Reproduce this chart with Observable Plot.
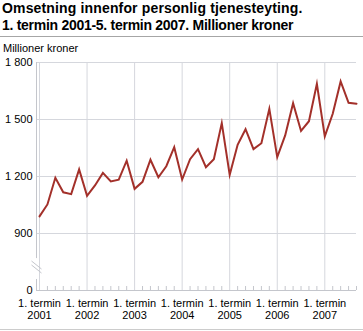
<!DOCTYPE html>
<html>
<head>
<meta charset="utf-8">
<script src="https://cdn.jsdelivr.net/npm/d3@7"></script>
<script src="https://cdn.jsdelivr.net/npm/@observablehq/plot@0.6"></script>
<style>
  html, body { margin: 0; padding: 0; background: #fff; }
  body { width: 363px; height: 331px; position: relative; overflow: hidden;
         font-family: "Liberation Sans", Arial, sans-serif; color: #000; }
  #title { position: absolute; left: 2px; top: 0px; font-weight: bold; font-size: 14px;
           line-height: 17px; white-space: nowrap; }
  #t1 { letter-spacing: 0.15px; }
  #t2 { letter-spacing: -0.28px; }
  #rule1 { position: absolute; left: 0; top: 36px; width: 363px; height: 1px; background: #a6a6a6; }
  #ylab { position: absolute; left: 3px; top: 42px; font-size: 11px; white-space: nowrap; }
  #chart { position: absolute; left: 0; top: 38px; }
  #rule2 { position: absolute; left: 0; top: 329px; width: 363px; height: 1px; background: #cccccc; }
</style>
</head>
<body>
<div id="title"><span id="t1">Omsetning innenfor personlig tjenesteyting.</span><br><span id="t2">1. termin 2001-5. termin 2007. Millioner kroner</span></div>
<div id="rule1"></div>
<div id="ylab">Millioner kroner</div>
<div id="chart"></div>
<div id="rule2"></div>
<script>
// ---- data ----
const years = [2001, 2002, 2003, 2004, 2005, 2006, 2007];
const termLabel = "1. termin";
const termsPerYear = 6;
// Omsetning, millioner kroner, 1. termin 2001 - 5. termin 2007 (41 terminer)
const values = [
  990, 1053, 1193, 1117, 1107, 1237,
  1098, 1153, 1219, 1174, 1183, 1283,
  1135, 1172, 1288, 1196, 1254, 1354,
  1184, 1291, 1344, 1249, 1291, 1481,
  1209, 1367, 1449, 1344, 1375, 1556,
  1302, 1416, 1586, 1440, 1491, 1688,
  1411, 1530, 1700, 1588, 1583
];
const yTicks = [600, 900, 1200, 1500, 1800]; // 600 is shown as "0" (broken axis)
const yZeroAt = 600;
const yBreakHigh = 768, yBreakLow = 658, yBreakMid = 721;

// ---- derived ----
const data = values.map((v, i) => ({ i, v }));
const yearStarts = years.map((y, k) => k * termsPerYear);
const allTerms = d3.range(values.length);
const minorTerms = allTerms.filter(i => i % termsPerYear !== 0);

const grid = "#d5d7dd";
const axisGray = "#c4c6cc";
const red = "#a3302a";
const fmt = d => d === yZeroAt ? "0" : d3.format(",")(d).replace(/,/g, " ");

const chart = Plot.plot({
  width: 363,
  height: 292,
  marginLeft: 36,
  marginRight: 7,
  marginTop: 24,
  marginBottom: 40,
  style: { fontFamily: "'Liberation Sans', Arial, sans-serif", fontSize: "11px", color: "#000", background: "transparent" },
  x: { domain: [0, values.length - 1], insetLeft: 3 },
  y: { domain: [yZeroAt, 1800] },
  marks: [
    Plot.gridY(yTicks.filter(d => d !== yZeroAt), { stroke: grid, strokeOpacity: 1 }),
    Plot.gridX(yearStarts, { stroke: grid, strokeOpacity: 1 }),
    Plot.ruleY([yZeroAt], { stroke: axisGray }),
    Plot.ruleX(minorTerms, { x: d => d, y1: yZeroAt, y2: yZeroAt, insetTop: -4, stroke: axisGray }),
    Plot.axisY({ ticks: yTicks, tickFormat: fmt, tickSize: 0, tickPadding: 4, fontSize: 11, label: null }),
    Plot.axisX({ ticks: yearStarts, tickFormat: d => termLabel + "\n" + years[d / termsPerYear],
                 tickSize: 0, tickPadding: 8, fontSize: 11, lineHeight: 1.1, label: null }),
    Plot.line(data, { x: "i", y: "v", stroke: red, strokeWidth: 2, strokeLinejoin: "miter", strokeMiterlimit: 10 })
  ]
});
document.getElementById("chart").appendChild(chart);

// y-axis line with break marks, positioned through the y scale
const ys = chart.scale("y");
const svg = d3.select(chart);
const ax = 36.5;
const g = svg.append("g").attr("stroke", axisGray).attr("stroke-width", 1).attr("fill", "none");
g.append("line").attr("x1", ax).attr("x2", ax).attr("y1", ys.apply(1800)).attr("y2", ys.apply(yBreakHigh));
g.append("line").attr("x1", ax).attr("x2", ax).attr("y1", ys.apply(yBreakLow)).attr("y2", ys.apply(yZeroAt));
const ym = ys.apply(yBreakMid);
[-2, 2].forEach(o => {
  g.append("line").attr("x1", ax - 5).attr("y1", ym + o - 4).attr("x2", ax + 5).attr("y2", ym + o + 4);
});
</script>
</body>
</html>
